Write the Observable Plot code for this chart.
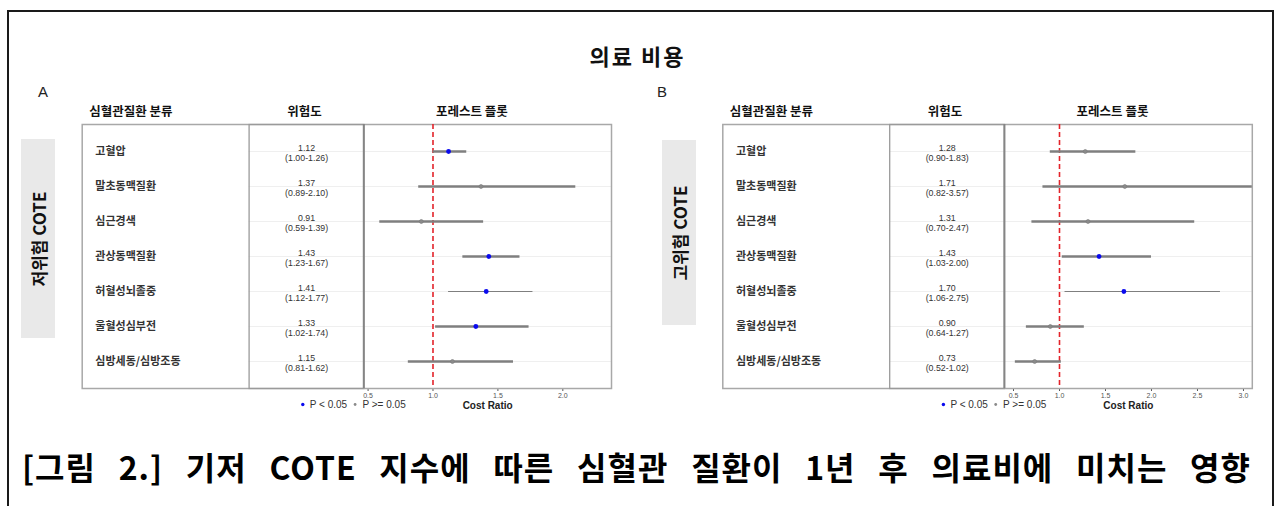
<!DOCTYPE html>
<html>
<head>
<meta charset="utf-8">
<script src="https://cdn.jsdelivr.net/npm/d3@7"></script>
<script src="https://cdn.jsdelivr.net/npm/@observablehq/plot@0.6"></script>
<style>
  html, body { margin: 0; padding: 0; background: #fff; }
  #page { position: relative; width: 1275px; height: 506px; overflow: hidden; background: #fff;
          font-family: "Noto Sans CJK KR", "Noto Sans", sans-serif; }
  #outer { position: absolute; left: 7px; top: 10px; width: 1267px; height: 600px;
           border: 2px solid #1a1a1a; box-sizing: border-box; }
  .abs { position: absolute; }
  #title { left: 0; width: 1275px; top: 40px; text-align: center; font-size: 22px; font-weight: bold;
           letter-spacing: 2px; color: #111; line-height: 30px; }
  .panelLetter { font-family: "Liberation Sans", Arial, sans-serif; font-size: 15px; color: #222; line-height: 15px; }
  .strip { background: #e9e9e9; }
  .stripText { position: absolute; left: 50%; top: 50%; transform: translate(-50%, -50%) rotate(-90deg);
               white-space: nowrap; font-size: 17px; font-weight: bold; color: #111; }
  #caption { left: 22px; width: 1229px; top: 445px; font-size: 32px; font-weight: bold; color: #000;
             letter-spacing: 1px; text-align: justify; text-align-last: justify; white-space: nowrap; line-height: 42px; }
  svg { overflow: visible; }
</style>
</head>
<body>
<div id="page">
  <div id="outer"></div>
  <div id="title" class="abs"></div>
  <div id="letterA" class="abs panelLetter" style="left:38px;top:84px;"></div>
  <div id="letterB" class="abs panelLetter" style="left:657px;top:84px;"></div>
  <div class="abs strip" style="left:21px;top:139px;width:34px;height:199px;"><div id="stripA" class="stripText"></div></div>
  <div class="abs strip" style="left:662px;top:140px;width:34px;height:185px;"><div id="stripB" class="stripText"></div></div>
  <div id="panelA" class="abs" style="left:0;top:0;"></div>
  <div id="panelB" class="abs" style="left:640px;top:0;"></div>
  <div id="caption" class="abs"></div>
</div>
<script>
// ---------- data ----------
const titleText = "의료 비용";
const captionText = "[그림 2.] 기저 COTE 지수에 따른 심혈관 질환이 1년 후 의료비에 미치는 영향";
const panelLetters = ["A", "B"];
const groupLabels = ["저위험 COTE", "고위험 COTE"];
const headers = ["심혈관질환 분류", "위험도", "포레스트 플롯"];
const legendLabels = ["P < 0.05", "P >= 0.05"];
const xLabel = "Cost Ratio";

const diseases = ["고혈압", "말초동맥질환", "심근경색", "관상동맥질환", "허혈성뇌졸중", "울혈성심부전", "심방세동/심방조동"];

// Panel A: low-risk COTE
const lowEst = [1.12, 1.37, 0.91, 1.43, 1.41, 1.33, 1.15];
const lowLo  = [1.00, 0.89, 0.59, 1.23, 1.12, 1.02, 0.81];
const lowHi  = [1.26, 2.10, 1.39, 1.67, 1.77, 1.74, 1.62];
const lowSig = [true, false, false, true, true, true, false];
const lowTicks = [0.5, 1.0, 1.5, 2.0];

// Panel B: high-risk COTE
const highEst = [1.28, 1.71, 1.31, 1.43, 1.70, 0.90, 0.73];
const highLo  = [0.90, 0.82, 0.70, 1.03, 1.06, 0.64, 0.52];
const highHi  = [1.83, 3.57, 2.47, 2.00, 2.75, 1.27, 1.02];
const highSig = [false, false, false, true, true, false, false];
const highTicks = [0.5, 1.0, 1.5, 2.0, 2.5, 3.0];

const nullValue = 1;
const thinRow = "허혈성뇌졸중";

// ---------- layout / style ----------
const fontKR = "'Noto Sans CJK KR', 'Noto Sans', sans-serif";
const fontNum = "'Liberation Sans Narrow', 'Liberation Sans', Arial, sans-serif";
const OFF = { box: -281.6, div1: -114.7, label: -268.5, value: -57.2,
              headers: [-233, -59.4, 108.1], legend: [-61, -54, -8.7, -1.3] };
const BLUE = "#0a0aee", GREY = "#8a8a8a";

function makePanel(cfg) {
  const rows = diseases.map((name, i) => ({
    name, est: cfg.est[i], lo: cfg.lo[i], hi: cfg.hi[i], sig: cfg.sig[i],
    label: `${cfg.est[i].toFixed(2)}\n(${cfg.lo[i].toFixed(2)}-${cfg.hi[i].toFixed(2)})`
  }));
  const innerW = cfg.width - cfg.mL - cfg.mR;
  return Plot.plot({
    width: cfg.width, height: 430,
    marginLeft: cfg.mL, marginRight: cfg.mR, marginTop: 124, marginBottom: 42,
    style: { background: "transparent", overflow: "visible", fontFamily: fontNum, fontSize: "7px", color: "#555" },
    x: { domain: cfg.domain, ticks: cfg.ticks, tickFormat: d3.format(".1f"), tickSize: 3, tickPadding: 1.5, label: null },
    y: { type: "point", domain: diseases, padding: 0.77, axis: null },
    marks: [
      Plot.ruleY(rows, { y: "name", stroke: "#efefef", strokeWidth: 1, insetLeft: OFF.div1 }),
      Plot.frame({ stroke: "#a8a8a8", strokeWidth: 1.5, insetLeft: OFF.box }),
      Plot.frame({ stroke: "#9a9a9a", strokeWidth: 1.3, insetLeft: OFF.div1, insetRight: innerW }),
      Plot.ruleX([cfg.domain[0]], { stroke: "#858585", strokeWidth: 2 }),
      Plot.ruleX([nullValue], { stroke: "#e3242b", strokeWidth: 1.6, strokeDasharray: "5,3" }),
      Plot.ruleY(rows, { y: "name", x1: "lo", x2: "hi", stroke: "#7f7f7f",
                         strokeWidth: d => d.name === thinRow ? 1 : 2.3, clip: true }),
      Plot.dot(rows, { filter: d => !d.sig, x: "est", y: "name", r: 2, fill: GREY, stroke: "#7a7a7a", strokeWidth: 0.6 }),
      Plot.dot(rows, { filter: d => d.sig, x: "est", y: "name", r: 2.4, fill: BLUE }),
      Plot.text(rows, { y: "name", text: "name", frameAnchor: "left", dx: OFF.label, textAnchor: "start",
                        fontSize: 11, fontWeight: "bold", fill: "#333", fontFamily: fontKR }),
      Plot.text(rows, { y: "name", text: "label", frameAnchor: "left", dx: OFF.value, dy: 1, textAnchor: "middle",
                        fontSize: 8.8, lineHeight: 1.2, fill: "#333", fontFamily: fontNum }),
      ...headers.map((h, i) => Plot.text([h], { frameAnchor: "top-left", dx: OFF.headers[i], dy: -12.5,
                        lineAnchor: "middle", textAnchor: "middle", fontSize: 12.5, fontWeight: "bold",
                        fill: "#111", fontFamily: fontKR })),
      Plot.text([xLabel], { frameAnchor: "bottom", dy: 17, lineAnchor: "middle", fontSize: 10, fontWeight: "bold",
                        fill: "#222", fontFamily: fontNum }),
      Plot.dot([legendLabels[0]], { frameAnchor: "bottom-left", dx: OFF.legend[0], dy: 16, r: 1.7, fill: BLUE }),
      Plot.text([legendLabels[0]], { frameAnchor: "bottom-left", dx: OFF.legend[1], dy: 16, lineAnchor: "middle",
                        textAnchor: "start", fontSize: 10, fill: "#333", fontFamily: fontNum }),
      Plot.dot([legendLabels[1]], { frameAnchor: "bottom-left", dx: OFF.legend[2], dy: 16, r: 1.4, fill: GREY }),
      Plot.text([legendLabels[1]], { frameAnchor: "bottom-left", dx: OFF.legend[3], dy: 16, lineAnchor: "middle",
                        textAnchor: "start", fontSize: 10, fill: "#333", fontFamily: fontNum })
    ]
  });
}

document.getElementById("title").textContent = titleText;
document.getElementById("caption").textContent = captionText;
document.getElementById("letterA").textContent = panelLetters[0];
document.getElementById("letterB").textContent = panelLetters[1];
document.getElementById("stripA").textContent = groupLabels[0];
document.getElementById("stripB").textContent = groupLabels[1];

document.getElementById("panelA").appendChild(makePanel({
  est: lowEst, lo: lowLo, hi: lowHi, sig: lowSig, ticks: lowTicks,
  domain: [0.467, 2.375], width: 640, mL: 363.3, mR: 29
}));
document.getElementById("panelB").appendChild(makePanel({
  est: highEst, lo: highLo, hi: highHi, sig: highSig, ticks: highTicks,
  domain: [0.401, 3.096], width: 635, mL: 363.9, mR: 23.2
}));
</script>
</body>
</html>
